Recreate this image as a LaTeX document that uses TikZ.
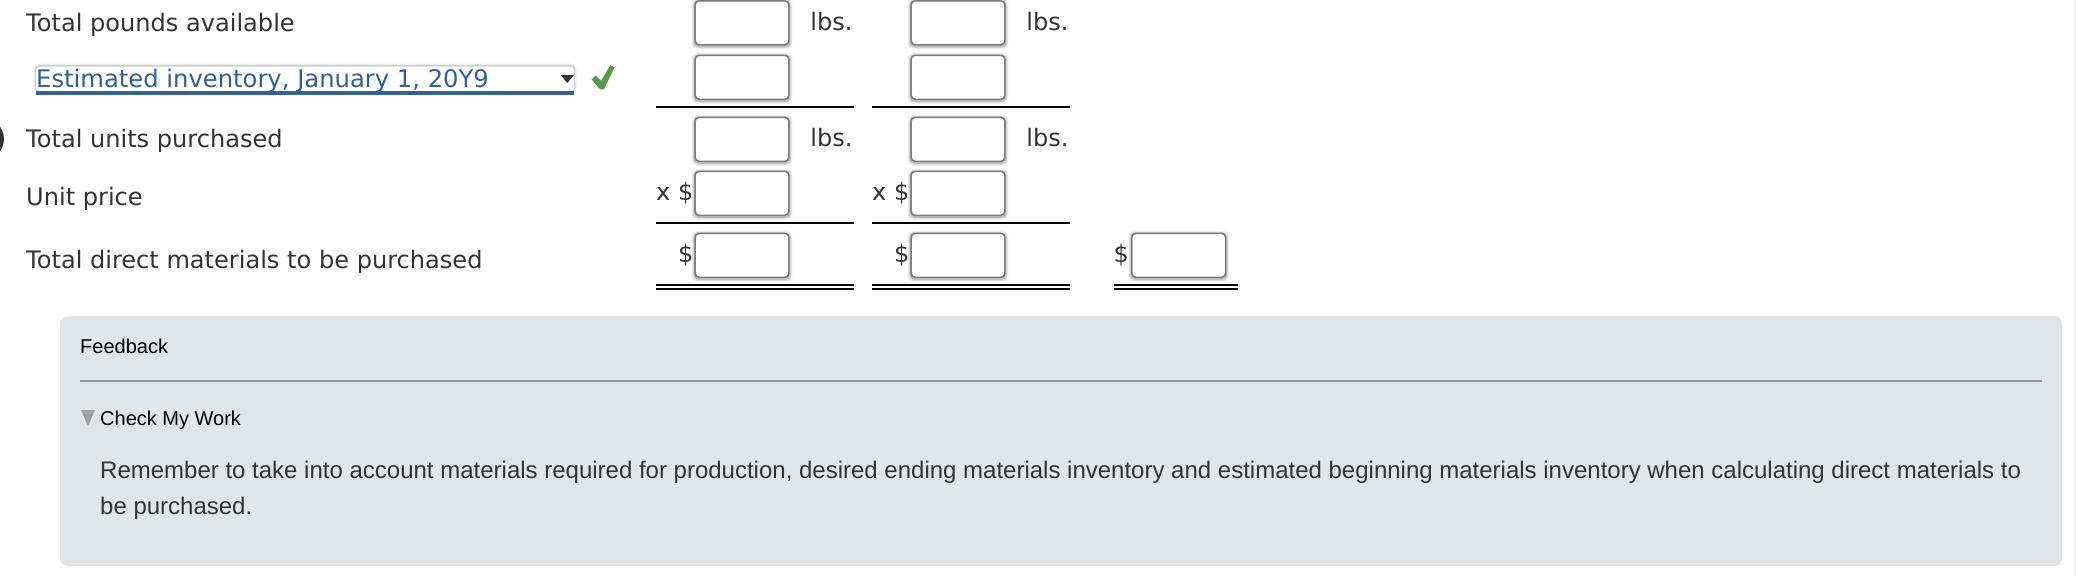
\documentclass[tikz,border=0pt]{standalone}
\usepackage{fontspec}
\setmainfont{DejaVu Sans}
\newfontfamily\arialf{Liberation Sans}
\definecolor{ink}{HTML}{333333}
\definecolor{selblue}{HTML}{2D6096}
\definecolor{barblue}{HTML}{36608F}
\definecolor{boxgray}{HTML}{7A7A7A}
\definecolor{panel}{HTML}{DFE5E8}
\definecolor{divider}{HTML}{939698}
\definecolor{okgreen}{HTML}{559A49}
\tikzset{
  x=1pt,y=-1pt,
  lbl/.style={anchor=base west,inner sep=0pt,text=ink,font=\fontsize{24.07}{26}\selectfont},
  unit/.style={anchor=base west,inner sep=0pt,text=ink,font=\fontsize{24}{26}\selectfont},
  sym/.style={anchor=base east,inner sep=0pt,text=ink,font=\fontsize{24}{26}\selectfont},
  inbox/.style={draw=boxgray,line width=1.6pt,fill=white,rounded corners=4pt,minimum width=93.8pt,minimum height=44pt,inner sep=0pt,outer sep=0pt,anchor=north west},
  rule/.style={line width=2pt,black},
  fb/.style={anchor=base west,inner sep=0pt,text=black,font=\arialf\fontsize{20}{22}\selectfont},
  body/.style={anchor=base west,inner sep=0pt,text=ink,font=\arialf\fontsize{24}{28}\selectfont},
}
\newcommand{\softshadow}[2]{%
  \foreach \g/\o in {3.5/.06,2.5/.09,1.5/.13}{
    \fill[black,opacity=\o,rounded corners=5pt] (#1-\g,#2-\g+1) rectangle (#1+93.8+\g,#2+44+\g+1);
  }}
\begin{document}
\begin{tikzpicture}
\useasboundingbox (0,0) rectangle (2076,576);
\fill[white] (0,0) rectangle (2076,576);
\fill[gray!20] (2074.5,0) rectangle (2076,576);
% left crescent
\fill[ink] (-17,139) circle (21);
% labels
\node[lbl] (l1) at (26,31) {Total pounds available};
\node[lbl] (l3) at (26,147) {Total units purchased};
\node[lbl] (l4) at (26,205) {Unit price};
\node[lbl] (l5) at (26,268.5) {Total direct materials to be purchased};
% dropdown
\fill[black,opacity=.07,rounded corners=5pt] (33.5,63.5) rectangle (576.5,92);
\fill[black,opacity=.12,rounded corners=4pt] (35,65) rectangle (575,92);
\node[fill=white,rounded corners=4pt,minimum width=538pt,minimum height=24.5pt,inner sep=0pt,outer sep=0pt,anchor=north west] (sel) at (36,66.7) {};
\fill[barblue] (36,91) rectangle (574,95);
\node[lbl,text=selblue,font=\fontsize{24.25}{26}\selectfont] (seltext) at (36,87) {Estimated inventory, January 1, 20Y9};
\fill[ink] (560.7,75) -- (574,75) -- (567.3,83) -- cycle;
\fill[okgreen] (591.7,79.5) -- (595.5,75.5) -- (601,81) -- (610.5,65) -- (614.5,67.5) -- (604,89.3) -- (600,89.3) -- cycle;
% shadows
\softshadow{695.1}{0.8}\softshadow{695.1}{55.3}\softshadow{695.1}{117.3}\softshadow{695.1}{171.3}\softshadow{695.1}{233.3}
\softshadow{911.1}{0.8}\softshadow{911.1}{55.3}\softshadow{911.1}{117.3}\softshadow{911.1}{171.3}\softshadow{911.1}{233.3}
\softshadow{1131.8}{233.3}
% input boxes
\node[inbox] (a1) at (695.1,0.8) {};
\node[inbox] (a2) at (695.1,55.3) {};
\node[inbox] (a3) at (695.1,117.3) {};
\node[inbox] (a4) at (695.1,171.3) {};
\node[inbox] (a5) at (695.1,233.3) {};
\node[inbox] (b1) at (911.1,0.8) {};
\node[inbox] (b2) at (911.1,55.3) {};
\node[inbox] (b3) at (911.1,117.3) {};
\node[inbox] (b4) at (911.1,171.3) {};
\node[inbox] (b5) at (911.1,233.3) {};
\node[inbox] (c5) at (1131.8,233.3) {};
% units
\node[unit] (ua1) at (810.2,30) {lbs.};
\node[unit] (ub1) at (1026.2,30) {lbs.};
\node[unit] (ua3) at (810.2,146.3) {lbs.};
\node[unit] (ub3) at (1026.2,146.3) {lbs.};
\node[sym] (xa) at (693.5,200.7) {x \$};
\node[sym] (xb) at (909.5,200.7) {x \$};
\node[sym] (da) at (693.5,262.5) {\$};
\node[sym] (db) at (909.5,262.5) {\$};
\node[sym] (dc) at (1129,262.5) {\$};
% rules
\foreach \yy in {107,223,285,289}{
  \draw[rule] (656,\yy) -- (854,\yy);
  \draw[rule] (872,\yy) -- (1070,\yy);
}
\foreach \yy in {285,289}{
  \draw[rule] (1114,\yy) -- (1238,\yy);
}
% feedback panel
\fill[panel,rounded corners=8pt] (60,316) rectangle (2062,566);
\draw[divider,line width=2pt] (80,381) -- (2042,381);
\node[fb] (fbk) at (80,353.8) {Feedback};
\fill[gray!75] (81,410) -- (95,410) -- (88.5,425) -- (87.5,425) -- cycle;
\node[fb] (cmw) at (100,425.8) {Check My Work};
\node[body] (t1) at (100,478) {Remember to take into account materials required for production, desired ending materials inventory and estimated beginning materials inventory when calculating direct materials to};
\node[body] (t2) at (100,514) {be purchased.};
\end{tikzpicture}
\end{document}
